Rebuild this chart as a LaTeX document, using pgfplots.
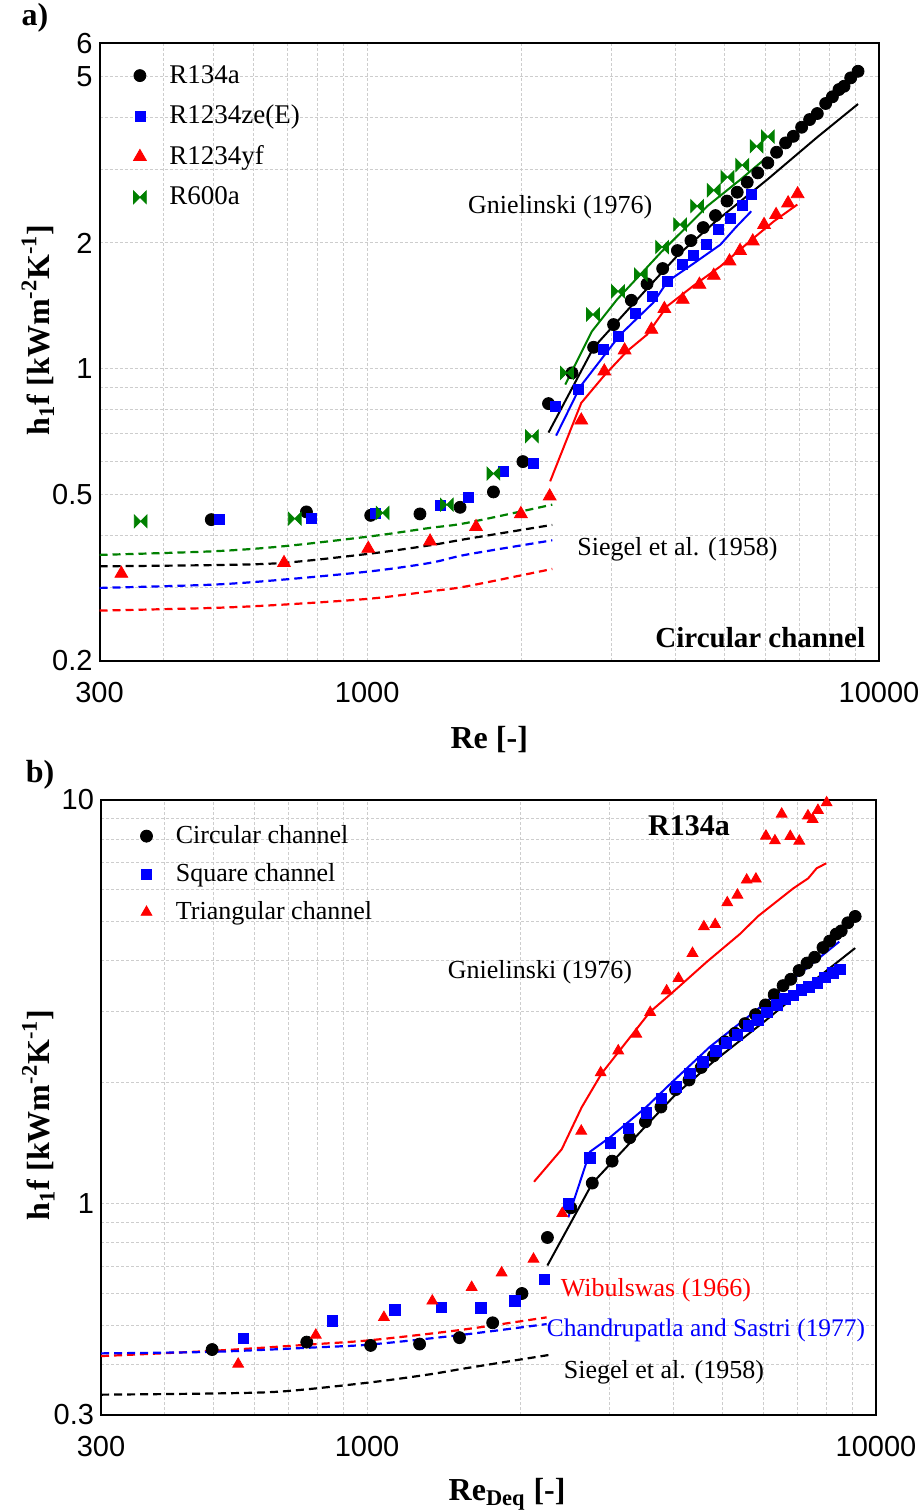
\documentclass[border=0pt]{standalone}
\usepackage{fontspec}
\setmainfont{Liberation Serif}
\newfontfamily\tickfont{Liberation Sans}
\usepackage{pgfplots}
\usepackage{pgfplotstable}
\pgfplotsset{compat=1.18}

\definecolor{dgreen}{RGB}{0,128,0}
\definecolor{gridgray}{RGB}{205,205,205}

\pgfdeclareplotmark{bowtie}{%
  \pgfpathmoveto{\pgfqpoint{-\pgfplotmarksize}{-\pgfplotmarksize}}%
  \pgfpathlineto{\pgfqpoint{\pgfplotmarksize}{\pgfplotmarksize}}%
  \pgfpathlineto{\pgfqpoint{\pgfplotmarksize}{-\pgfplotmarksize}}%
  \pgfpathlineto{\pgfqpoint{-\pgfplotmarksize}{\pgfplotmarksize}}%
  \pgfpathclose
  \pgfusepathqfillstroke
}

\pgfplotsset{
 gnline/.style={no marks, line width=1pt, forget plot},
 sgline/.style={no marks, line width=1.1pt, dash pattern=on 4pt off 2.5pt, smooth, forget plot},
 mklegend/.style={legend image code/.code={\draw[##1] plot coordinates {(0pt,0pt)}; \path (-1pt,0pt) (12.5pt,0pt);}},
}

% ---------------- data ----------------
\pgfplotstableread{
x y
496 0.4357
761 0.4546
1016 0.4461
1268 0.4496
1519 0.4663
1765 0.5075
2015 0.5998
2261 0.8255
2513 0.9777
2770 1.1257
3030 1.2757
3282 1.4582
3523 1.5965
3779 1.7367
4038 1.9178
4291 2.0262
4534 2.1767
4792 2.3253
5047 2.5189
5284 2.6448
5528 2.7943
5797 2.9424
6065 3.1090
6308 3.2961
6569 3.4704
6800 3.5990
7061 3.7832
7320 3.9473
7577 4.0795
7867 4.3111
8108 4.4732
8352 4.6559
8543 4.7403
8804 4.9648
9100 5.1484
}\circdata

\pgfplotstableread{
x y
2261 0.7037
2770 1.124
3030 1.269
3523 1.555
4038 1.866
4792 2.250
6065 2.843
7577 3.582
9100 4.299
}\circgn

\pgfplotstableread{
x y
300 0.3369
500 0.3392
685 0.3433
1016 0.3614
1327 0.3783
1565 0.3918
2300 0.4233
}\circsg

\begin{document}
\begin{tikzpicture}
\useasboundingbox (0,0) rectangle (461pt,756pt);

% ================= panel a =================
\begin{axis}[scale only axis, xmode=log, ymode=log, xmin=300, xmax=10000,
  at={(49.75pt,425.5pt)}, anchor=south west,
  width=389.75pt, height=308.75pt, clip mode=individual,
  axis line style={line width=1pt},
  xtick={300,1000,10000}, xticklabels={300,1000,10000},
  minor xtick={400,500,600,700,800,900,2000,3000,4000,5000,6000,7000,8000,9000},
  major tick length=0pt, minor tick length=0pt,
  grid=both,
  major grid style={draw=gridgray, dash pattern=on 1.5pt off 1pt, line width=0.5pt},
  minor grid style={draw=gridgray, dash pattern=on 1.5pt off 1pt, line width=0.5pt},
  tick label style={font=\tickfont\fontsize{14.5}{16}\selectfont},
  xticklabel style={yshift=-7pt},
  ymin=0.2, ymax=6, ytick={0.2,0.5,1,2,5,6}, yticklabels={0.2,0.5,1,2,5,6},
  minor ytick={0.3,0.4,0.6,0.7,0.8,0.9,3,4},
  xlabel={Re [-]},
  ylabel={h\textsubscript{1}f [kWm\textsuperscript{-2}K\textsuperscript{-1}]},
  label style={font=\bfseries\fontsize{16}{18}\selectfont},
  xlabel style={at={(axis description cs:0.5,-0.127)}, anchor=center},
  ylabel style={at={(axis description cs:-0.079,0.5365)}, anchor=center},
  legend cell align=left,
  legend style={at={(axis description cs:0.0354,0.9785)}, anchor=north west, draw=none, fill=none,
    font=\fontsize{13.5}{15}\selectfont, row sep=5.5pt},
]
% Siegel et al. (1958)
\addplot[sgline, dgreen] coordinates {(300,0.3588) (500,0.3660) (685,0.3762) (1016,0.3975) (1327,0.4163) (1565,0.4279) (2300,0.4732)};
\addplot[sgline, black] table {\circsg};
\addplot[sgline, blue] coordinates {(300,0.2991) (500,0.3046) (685,0.3131) (1016,0.3278) (1327,0.3433) (1565,0.3594) (2300,0.3888)};
\addplot[sgline, red] coordinates {(300,0.2640) (500,0.2679) (685,0.2728) (1016,0.2820) (1327,0.2936) (1565,0.3018) (2300,0.3321)};
% Gnielinski (1976)
\addplot[gnline, black] table {\circgn};
\addplot[gnline, blue] coordinates {(2340,0.6922) (2608,0.9066) (3123,1.2072) (3624,1.4400) (3860,1.6170) (4341,1.7854) (4901,1.9819) (5245,2.1767) (5629,2.3812)};
\addplot[gnline, red] coordinates {(2278,0.5380) (2620,0.8288) (2897,0.9596) (3218,1.1013) (3523,1.2072) (3855,1.4110) (4345,1.5819) (4901,1.7590) (5695,2.0567) (6232,2.2535) (6925,2.4707)};
\addplot[gnline, dgreen] coordinates {(2438,0.9167) (2749,1.2293) (3077,1.4642) (3418,1.6804) (3741,1.8936) (4218,2.1917) (4616,2.4480) (5362,2.8363) (6048,3.2099)};
% data
\addplot[only marks, mklegend, mark=*, mark size=3pt, black] table {\circdata};
\addlegendentry{R134a}
\addplot[only marks, mklegend, mark=square*, mark size=2.5pt, blue] coordinates {
(515,0.4357) (779,0.4381) (1036,0.4503) (1392,0.4707) (1576,0.4912) (1846,0.5687) (2113,0.5955)
(2336,0.8133) (2581,0.8917) (2897,1.1114) (3091,1.1962) (3346,1.3558) (3607,1.4859) (3855,1.6143)
(4125,1.7756) (4345,1.8707) (4601,1.9874) (4864,2.1493) (5128,2.2854) (5412,2.4598) (5629,2.6115)};
\addlegendentry{R1234ze(E)}
\addplot[only marks, mklegend, mark=triangle*, mark size=3.7pt, red] coordinates {
(331,0.3236) (688,0.3433) (1005,0.3714) (1327,0.3866) (1632,0.4186) (1997,0.4496) (2273,0.4955)
(2620,0.7530) (2906,0.9863) (3184,1.1073) (3592,1.2408) (3808,1.3910) (4135,1.4642) (4458,1.5903)
(4755,1.6711) (5104,1.8081) (5352,1.9156) (5667,2.0184) (5962,2.2100) (6294,2.3345) (6644,2.4900) (6935,2.6182)};
\addlegendentry{R1234yf}
\addplot[only marks, mklegend, mark=bowtie, mark size=3.2pt, dgreen] coordinates {
(361,0.4317) (722,0.4381) (1072,0.4521) (1431,0.4732) (1765,0.5616) (2098,0.6895) (2457,0.9777)
(2762,1.3484) (3091,1.5324) (3425,1.6804) (3769,1.9552) (4087,2.2131) (4412,2.4502) (4755,2.6730)
(5058,2.8748) (5405,3.0713) (5765,3.4063) (6065,3.5932)};
\addlegendentry{R600a}
\node[font=\fontsize{13}{15}\selectfont] at (axis cs:2384,2.43) {Gnielinski (1976)};
\node[font=\fontsize{13}{15}\selectfont] at (axis cs:4038,0.3694) {Siegel et al. (1958)};
\node[font=\bfseries\fontsize{14.5}{16}\selectfont, anchor=east] at (axis cs:9700,0.2275) {Circular channel};
\node[font=\bfseries\fontsize{16}{18}\selectfont] at (axis description cs:-0.0827,1.042) {a)};
\end{axis}

% ================= panel b =================
\begin{axis}[scale only axis, xmode=log, ymode=log, xmin=300, xmax=10000,
  at={(50.5pt,48.5pt)}, anchor=south west,
  width=387.5pt, height=307.5pt, clip mode=individual,
  axis line style={line width=1pt},
  xtick={300,1000,10000}, xticklabels={300,1000,10000},
  minor xtick={400,500,600,700,800,900,2000,3000,4000,5000,6000,7000,8000,9000},
  major tick length=0pt, minor tick length=0pt,
  grid=both,
  major grid style={draw=gridgray, dash pattern=on 1.5pt off 1pt, line width=0.5pt},
  minor grid style={draw=gridgray, dash pattern=on 1.5pt off 1pt, line width=0.5pt},
  tick label style={font=\tickfont\fontsize{14.5}{16}\selectfont},
  xticklabel style={yshift=-7pt},
  ymin=0.3, ymax=10, ytick={0.3,1,10}, yticklabels={0.3,1,10},
  minor ytick={0.4,0.5,0.6,0.7,0.8,0.9,2,3,4,5,6,7,8,9},
  xlabel={Re\textsubscript{Deq} [-]},
  ylabel={h\textsubscript{1}f [kWm\textsuperscript{-2}K\textsuperscript{-1}]},
  label style={font=\bfseries\fontsize{16}{18}\selectfont},
  xlabel style={at={(axis description cs:0.524,-0.129)}, anchor=center},
  ylabel style={at={(axis description cs:-0.081,0.488)}, anchor=center},
  legend cell align=left,
  legend style={at={(axis description cs:0.0427,0.972)}, anchor=north west, draw=none, fill=none,
    font=\fontsize{13}{15}\selectfont, row sep=4.5pt},
]
% dashed correlations
\addplot[sgline, black] table {\circsg};
\addplot[sgline, red] coordinates {(300,0.4198) (500,0.4327) (796,0.4495) (1021,0.4599) (1522,0.4870) (2253,0.5235)};
\addplot[sgline, blue] coordinates {(300,0.4263) (500,0.4302) (796,0.4412) (1021,0.4487) (1522,0.4732) (2253,0.5038)};
% Gnielinski
\addplot[gnline, black] table {\circgn};
\addplot[gnline, blue] coordinates {(2485,0.9260) (2741,1.3459) (3001,1.4611) (3542,1.7398) (3996,2.0141) (4717,2.4491) (5828,3.0200) (6878,3.6031) (7645,4.0168) (8468,4.4586)};
\addplot[gnline, red] coordinates {(2128,1.1341) (2412,1.3646) (2640,1.7338) (2891,2.1048) (3140,2.4030) (3595,2.9854) (3990,3.3447) (4647,3.9710) (5403,4.6580) (5869,5.1603) (6878,6.0423) (7360,6.4003) (7645,6.7758) (7983,6.9701)};
% data
\addplot[only marks, mklegend, mark=*, mark size=3pt, black] table {\circdata};
\addlegendentry{Circular channel}
\addplot[only marks, mklegend, mark=square*, mark size=2.6pt, blue] coordinates {
(571,0.4644) (854,0.5134) (1134,0.5458) (1401,0.5543) (1674,0.5521) (1952,0.5754) (2229,0.6501)
(2485,0.9989) (2741,1.3007) (3010,1.4168) (3266,1.5382) (3536,1.6788) (3791,1.8247) (4050,1.9498)
(4309,2.1048) (4571,2.2447) (4847,2.3891) (5087,2.5016) (5342,2.6182) (5611,2.7561) (5861,2.8570)
(6105,2.9800) (6381,3.1069) (6624,3.2154) (6878,3.2804) (7144,3.3847) (7382,3.4485) (7665,3.5223)
(7938,3.6342) (8229,3.7291) (8493,3.8081)};
\addlegendentry{Square channel}
\addplot[only marks, mklegend, mark=triangle*, mark size=3.1pt, red] coordinates {
(558,0.4012) (793,0.4732) (1079,0.5235) (1343,0.5748) (1605,0.6214) (1838,0.6751) (2123,0.7300)
(2418,0.9473) (2635,1.5145) (2877,2.1121) (3115,2.3936) (3380,2.6333) (3600,2.9800) (3878,3.3693)
(4091,3.6172) (4359,4.1730) (4590,4.8561) (4830,4.9177) (5102,5.5682) (5342,5.8170) (5570,6.3387)
(5808,6.3753) (6077,8.1434) (6330,7.9288) (6526,9.2324) (6785,8.1303) (7067,7.9161) (7350,9.1393)
(7507,8.9600) (7690,9.4302) (7998,9.8470)};
\addlegendentry{Triangular channel}
\node[font=\bfseries\fontsize{15}{17}\selectfont] at (axis cs:4290,8.62) {R134a};
\node[font=\fontsize{13}{15}\selectfont] at (axis cs:2186,3.75) {Gnielinski (1976)};
\node[font=\fontsize{13}{15}\selectfont, text=red] at (axis cs:3695,0.6115) {Wibulswas (1966)};
\node[font=\fontsize{12.7}{15}\selectfont, text=blue] at (axis cs:4633,0.487) {Chandrupatla and Sastri (1977)};
\node[font=\fontsize{13}{15}\selectfont] at (axis cs:3831,0.3834) {Siegel et al. (1958)};
\node[font=\bfseries\fontsize{16}{18}\selectfont] at (axis description cs:-0.0787,1.0407) {b)};
\end{axis}
\end{tikzpicture}
\end{document}
